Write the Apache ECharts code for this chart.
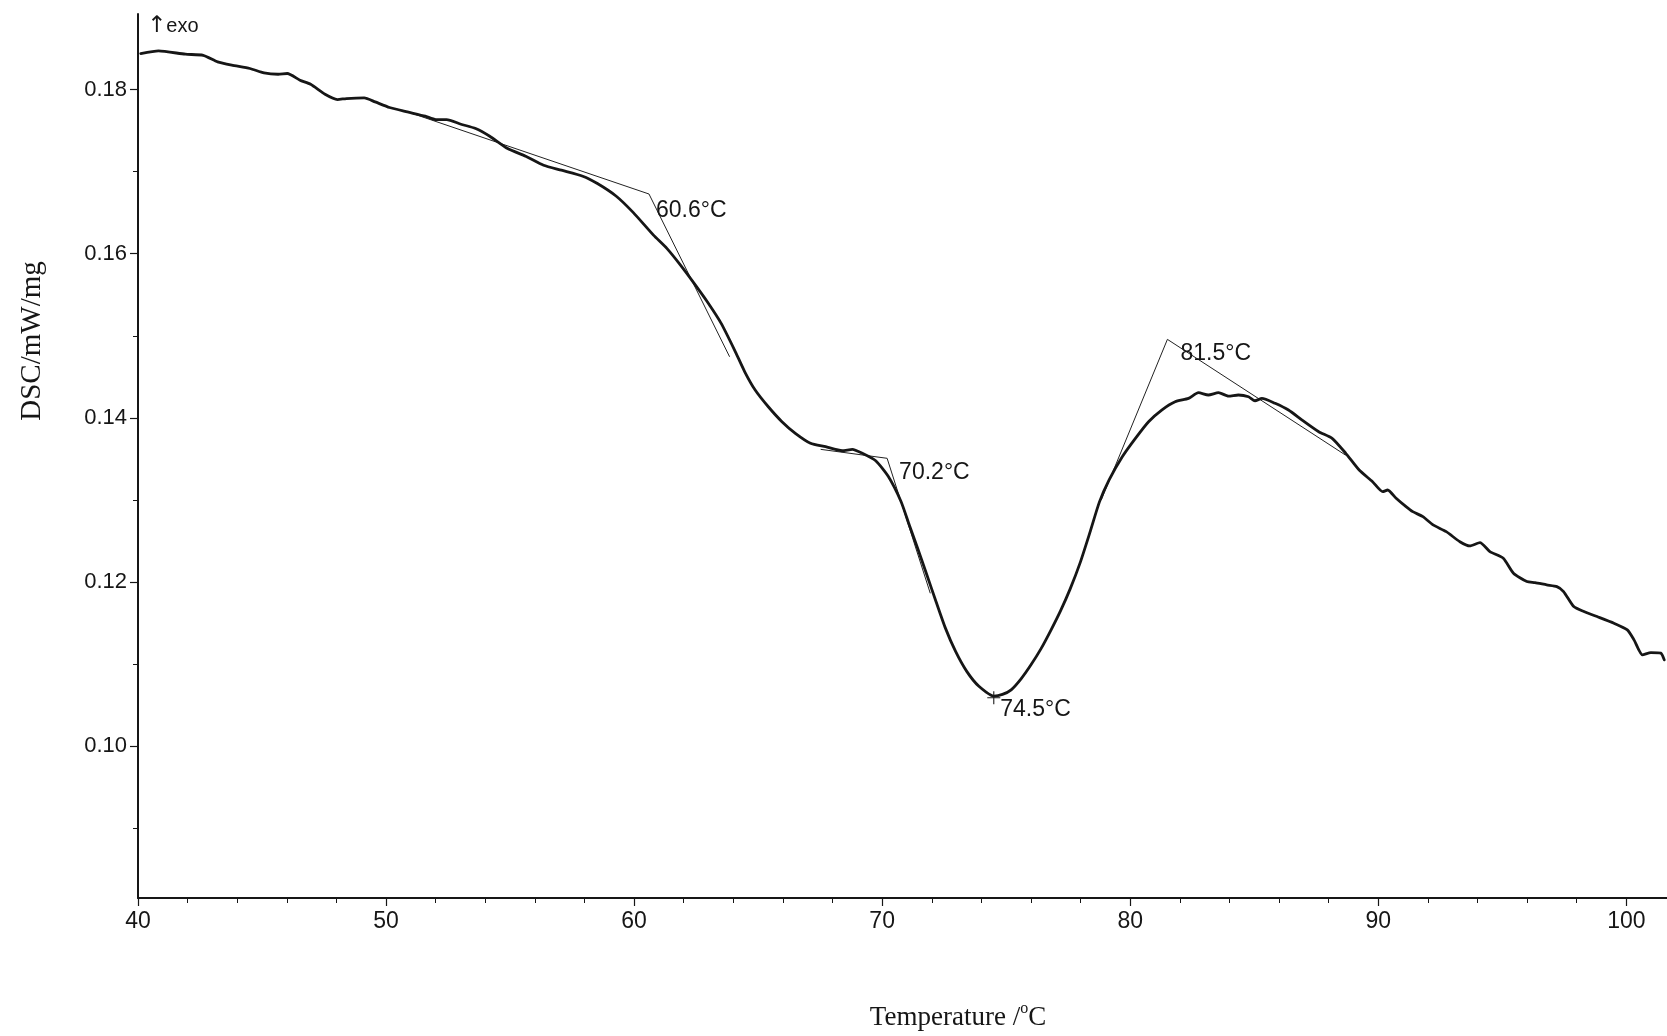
<!DOCTYPE html>
<html>
<head>
<meta charset="utf-8">
<script src="https://cdn.jsdelivr.net/npm/echarts@6/dist/echarts.min.js"></script>
<style>
  html, body { margin: 0; padding: 0; background: #ffffff; }
  #chart { width: 1667px; height: 1036px; }
</style>
</head>
<body>
<div id="chart"></div>
<script>
// DSC heating scan: heat flow (mW/mg) against sample temperature (°C)
const temperature = [
  40.11, 40.83, 41.91, 42.63, 43.21, 43.78, 44.51, 45.08, 45.65, 46.02,
  46.53, 46.96, 47.54, 48.04, 48.40, 49.12, 49.56, 50.14, 50.86, 51.58,
  52.01, 52.44, 53.02, 53.61, 54.18, 54.90, 55.63, 56.35, 57.07, 57.93,
  58.52, 59.27, 59.97, 60.78, 61.32, 61.87, 62.42, 62.95, 63.51, 64.05,
  64.46, 64.88, 65.41, 65.96, 66.50, 67.11, 67.72, 68.39, 68.80, 69.20,
  69.74, 70.25, 70.76, 71.09, 71.43, 71.80, 72.17, 72.55, 72.96, 73.41,
  73.90, 74.50, 74.85, 75.20, 75.60, 76.00, 76.40, 76.79, 77.19, 77.58,
  77.98, 78.37, 78.76, 79.15, 79.68, 80.21, 80.74, 81.27, 81.81, 82.35,
  82.75, 83.15, 83.56, 83.96, 84.36, 84.77, 85.03, 85.31, 85.84, 86.38,
  86.93, 87.60, 88.14, 88.69, 89.23, 89.77, 90.18, 90.38, 90.72, 91.12,
  91.39, 91.80, 92.21, 92.74, 93.29, 93.69, 94.10, 94.50, 95.04, 95.45,
  95.99, 96.32, 96.79, 97.20, 97.47, 97.88, 98.29, 98.82, 99.50, 100.04,
  100.31, 100.65, 100.99, 101.39, 101.53
];
const dsc = [
  0.18438, 0.18470, 0.18430, 0.18417, 0.18336, 0.18296, 0.18256, 0.18202, 0.18186, 0.18195,
  0.18113, 0.18064, 0.17942, 0.17878, 0.17890, 0.17898, 0.17849, 0.17781, 0.17727, 0.17675,
  0.17634, 0.17634, 0.17577, 0.17525, 0.17431, 0.17281, 0.17188, 0.17078, 0.17017, 0.16944,
  0.16855, 0.16703, 0.16500, 0.16226, 0.16064, 0.15860, 0.15638, 0.15414, 0.15151, 0.14826,
  0.14561, 0.14339, 0.14135, 0.13953, 0.13811, 0.13690, 0.13648, 0.13599, 0.13616, 0.13568,
  0.13477, 0.13285, 0.12981, 0.12697, 0.12412, 0.12088, 0.11763, 0.11438, 0.11154, 0.10911,
  0.10729, 0.10610, 0.10630, 0.10686, 0.10820, 0.10991, 0.11185, 0.11405, 0.11648, 0.11916,
  0.12233, 0.12598, 0.12976, 0.13244, 0.13526, 0.13750, 0.13953, 0.14095, 0.14196, 0.14237,
  0.14306, 0.14278, 0.14306, 0.14265, 0.14278, 0.14257, 0.14208, 0.14237, 0.14177, 0.14095,
  0.13973, 0.13831, 0.13750, 0.13568, 0.13364, 0.13222, 0.13100, 0.13121, 0.13020, 0.12918,
  0.12857, 0.12796, 0.12695, 0.12613, 0.12491, 0.12439, 0.12479, 0.12370, 0.12289, 0.12107,
  0.12005, 0.11993, 0.11965, 0.11944, 0.11883, 0.11700, 0.11640, 0.11579, 0.11498, 0.11416,
  0.11295, 0.11112, 0.11140, 0.11133, 0.11051
];

// Tangent constructions: [start, intersection, end] as [T, DSC]
const onsetFirst  = [[50.67, 0.17748], [60.6, 0.16727], [63.85, 0.14744]];
const onsetSecond = [[67.52, 0.13616], [70.2, 0.13507], [71.94, 0.11862]];
const onsetThird  = [[78.83, 0.12998], [81.5, 0.14956], [88.68, 0.13546]];
// Peak minimum of the endotherm
const peakMin = [74.5, 0.1059];

// Axis ticks
const xMajorTicks = [40, 50, 60, 70, 80, 90, 100];
const xMinorTicks = [42, 44, 46, 48, 52, 54, 56, 58, 62, 64, 66, 68, 72, 74, 76, 78, 82, 84, 86, 88, 92, 94, 96, 98];
const yMajorTicks = [0.10, 0.12, 0.14, 0.16, 0.18];
const yMinorTicks = [0.09, 0.11, 0.13, 0.15, 0.17];

const X_MIN = 40, X_MAX = 101.64, Y_MIN = 0.0815, Y_MAX = 0.1892;
const INK = '#161616';
const TEXT = '#161616';
const SANS = '"Liberation Sans", Arial, sans-serif';
const SERIF = '"Liberation Serif", "Times New Roman", serif';

const chart = echarts.init(document.getElementById('chart'), null, { renderer: 'canvas' });

// where each temperature annotation sits relative to its point, in px
const annotationOffset = [[7, 17], [12, 14], [13, 14]];

const annotationData = [onsetFirst[1], onsetSecond[1], onsetThird[1]].map((p, i) => ({
  value: p,
  label: { position: annotationOffset[i] }
}));

const tangentSeries = [onsetFirst, onsetSecond, onsetThird].map(pts => ({
  type: 'line',
  data: pts,
  symbol: 'none',
  silent: true,
  lineStyle: { color: '#222222', width: 1 },
  z: 3
}));

const hiddenAxisParts = {
  axisLine: { show: false },
  axisLabel: { show: false },
  splitLine: { show: false }
};

const option = {
  backgroundColor: '#ffffff',
  animation: false,
  grid: { left: 138, right: 0, top: 14, bottom: 138, containLabel: false, outerBoundsMode: 'none' },
  xAxis: [
    {
      type: 'value', min: X_MIN, max: X_MAX,
      axisLine: { show: true, onZero: false, lineStyle: { color: INK, width: 2 } },
      axisTick: { show: true, inside: false, length: 8, customValues: xMajorTicks, lineStyle: { color: INK, width: 1.2 } },
      axisLabel: {
        show: true, customValues: xMajorTicks, margin: 12,
        color: TEXT, fontFamily: SANS, fontSize: 23,
        formatter: v => String(Math.round(v))
      },
      splitLine: { show: false }
    },
    {
      type: 'value', min: X_MIN, max: X_MAX, position: 'bottom',
      ...hiddenAxisParts,
      axisTick: { show: true, inside: false, length: 5, customValues: xMinorTicks, lineStyle: { color: INK, width: 1 } }
    }
  ],
  yAxis: [
    {
      type: 'value', min: Y_MIN, max: Y_MAX,
      axisLine: { show: true, onZero: false, lineStyle: { color: INK, width: 2 } },
      axisTick: { show: true, inside: false, length: 8, customValues: yMajorTicks, lineStyle: { color: INK, width: 1.2 } },
      axisLabel: {
        show: true, customValues: yMajorTicks, margin: 11,
        color: TEXT, fontFamily: SANS, fontSize: 22,
        formatter: v => v.toFixed(2)
      },
      splitLine: { show: false }
    },
    {
      type: 'value', min: Y_MIN, max: Y_MAX, position: 'left',
      ...hiddenAxisParts,
      axisTick: { show: true, inside: false, length: 5, customValues: yMinorTicks, lineStyle: { color: INK, width: 1 } }
    }
  ],
  series: [
    {
      name: 'DSC',
      type: 'line',
      data: temperature.map((t, i) => [t, dsc[i]]),
      symbol: 'none',
      smooth: 0.2,
      silent: true,
      lineStyle: { color: INK, width: 2.8, join: 'round', cap: 'round' },
      z: 4
    },
    ...tangentSeries,
    {
      type: 'scatter',
      data: annotationData,
      symbolSize: 0,
      silent: true,
      itemStyle: { opacity: 1 },
      label: {
        show: true, align: 'left', verticalAlign: 'middle',
        color: TEXT, fontFamily: SANS, fontSize: 23, opacity: 1,
        formatter: p => p.value[0].toFixed(1) + '°C'
      },
      z: 5
    },
    {
      type: 'scatter',
      data: [peakMin],
      symbol: 'path://M0,5.5h12v1h-12z M5.5,0h1v12h-1z',
      symbolSize: 13,
      silent: true,
      itemStyle: { color: '#1a1a1a', opacity: 1 },
      label: {
        show: true, position: [13, 18], align: 'left', verticalAlign: 'middle',
        color: TEXT, fontFamily: SANS, fontSize: 23, opacity: 1,
        formatter: p => p.value[0].toFixed(1) + '°C'
      },
      z: 5
    }
  ],
  graphic: [
    {
      type: 'text', x: 32, y: 341, rotation: Math.PI / 2, silent: true,
      style: {
        text: 'DSC/mW/mg', fill: TEXT,
        font: '29px ' + SERIF,
        align: 'center', verticalAlign: 'middle', textAlign: 'center', textVerticalAlign: 'middle'
      }
    },
    {
      type: 'text', x: 958, y: 1016, silent: true,
      style: {
        text: '{m|Temperature /}{s|o}{m|C}', fill: TEXT,
        align: 'center', verticalAlign: 'middle', textAlign: 'center', textVerticalAlign: 'middle',
        rich: {
          m: { fontFamily: SERIF, fontSize: 27, lineHeight: 30, verticalAlign: 'bottom', fill: TEXT },
          s: { fontFamily: SERIF, fontSize: 16, lineHeight: 30, verticalAlign: 'top', padding: [0, 0, 8, 0], fill: TEXT }
        }
      }
    },
    {
      type: 'text', x: 147, y: 26, silent: true,
      style: {
        text: '{a|↑}{b|exo}', fill: TEXT,
        align: 'left', verticalAlign: 'middle', textAlign: 'left', textVerticalAlign: 'middle',
        rich: {
          a: { fontFamily: '"DejaVu Sans", sans-serif', fontSize: 23, fill: TEXT },
          b: { fontFamily: SANS, fontSize: 20, fill: TEXT }
        }
      }
    }
  ]
};

chart.setOption(option);
</script>
</body>
</html>
